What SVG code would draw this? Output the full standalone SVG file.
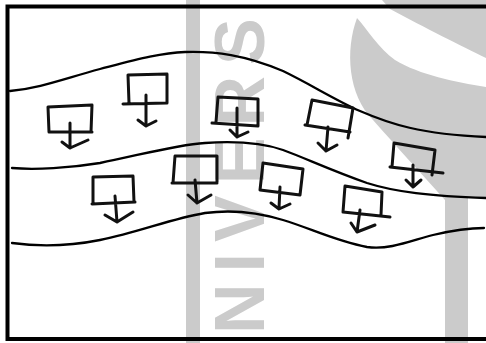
<svg xmlns="http://www.w3.org/2000/svg" width="486" height="343" viewBox="0 0 486 343">
<style>
.wm{fill:#cbcbcb;stroke:none}
.wmt{fill:#cbcbcb;font-family:"Liberation Sans",Arial,sans-serif;font-weight:bold;font-size:70px}
.frame{fill:none;stroke:#000;stroke-width:4}
.wave{fill:none;stroke:#000;stroke-width:2.3;stroke-linecap:round}
.box{fill:none;stroke:#111;stroke-width:3;stroke-linecap:round;stroke-linejoin:round}
</style>
<rect width="486" height="343" fill="#fff"/>
<g id="watermark">
<rect class="wm" x="186" y="0" width="14" height="343"/>
<text class="wmt" transform="translate(264,334) rotate(-90)" letter-spacing="11">NIVERS</text>
<path class="wm" d="M382,0 H486 V58 C462,46 425,28 390,9 Z"/>
<path class="wm" d="M357,18 C345,50 348,95 373,120 C395,145 420,172 445,200 V343 H468 V198 H486 V87 C455,82 420,75 395,60 C378,48 368,30 357,18 Z"/>
</g>
<g id="frame">
<path class="frame" d="M7.5,5 V340 M5.5,6.5 H486 M5.5,339 H486"/>
</g>
<g id="bands">
<path class="wave" d="M10,91 C40,88 60,80 100,69 C135,60 160,53 185,52 C215,51 245,55 283,71 C310,84 335,100 360,111 C390,124 420,134 486,137"/>
<path class="wave" d="M12,168 C35,170 70,168 100,163 C140,155 175,145 205,143 C235,141 260,142 283,150 C305,158 330,170 367,183 C395,192 430,196 486,198"/>
<path class="wave" d="M12,243 C40,247 70,246 100,240 C140,232 170,219 205,213 C235,209 260,213 283,220 C310,228 335,241 367,247 C390,250 410,241 433,235 C450,231 468,228 484,228"/>
</g>
<g id="box-a"><path class="box" d="M49,132 L48,107 L92,105 L91,132 M49,132 H92 M70,123 V148 M62,142 L70,148 L88,140"/></g>
<g id="box-b"><path class="box" d="M129,103 L128,75 L167,74 L167,103 M123,104 L167,103 M146,95 V126 M138,120 L146,126 L156,121"/></g>
<g id="box-c"><path class="box" d="M216,122 L218,97 L258,99 L258,126 M212,123 L258,126 M237,108 V137 M230,130 L237,137 L248,132"/></g>
<g id="box-d"><path class="box" d="M307,125 L312,100 L353,108 L348,138 M305,125 L350,132 M328,127 L326,151 M318,143 L326,151 L337,145"/></g>
<g id="box-e"><path class="box" d="M392,167 L394,143 L435,150 L432,175 M390,167 L443,173 M413,165 V187 M406,180 L413,187 L421,180"/></g>
<g id="box-f"><path class="box" d="M93,204 L93,177 L133,176 L134,202 M92,204 L135,202 M115,196 L117,222 M105,215 L117,222 L133,212"/></g>
<g id="box-g"><path class="box" d="M173,183 L175,156 L217,156 L217,182 M172,183 H217 M195,180 L197,203 M188,195 L197,203 L211,195"/></g>
<g id="box-h"><path class="box" d="M260,190 L263,163 L303,169 L300,195 M260,190 L300,195 M280,187 L279,208 M271,203 L279,209 L290,204"/></g>
<g id="box-i"><path class="box" d="M343,212 L345,186 L382,192 L381,215 M343,212 L390,217 M360,210 L357,232 M351,223 L357,232 L375,225"/></g>
</svg>
